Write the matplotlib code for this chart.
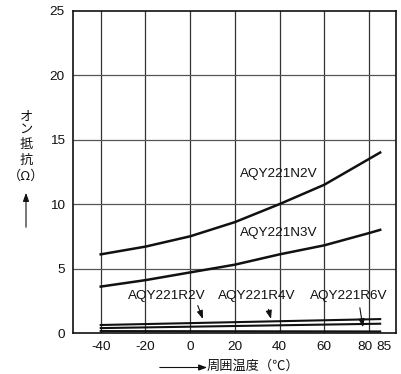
import matplotlib
matplotlib.use("Agg")
import matplotlib.pyplot as plt
import matplotlib.transforms as mtransforms

# Data
temps = [-40, -20, 0, 20, 40, 60, 80, 85]
n2v = [6.1, 6.7, 7.5, 8.6, 10.0, 11.5, 13.5, 14.0]
n3v = [3.6, 4.1, 4.7, 5.3, 6.1, 6.8, 7.75, 8.0]
r_temps = [-40, 85]
r2v = [0.62, 1.08]
r4v = [0.38, 0.72]
r6v = [0.15, 0.12]
xticks = [-40, -20, 0, 20, 40, 60, 80, 85]
xgrid = [-40, -20, 0, 20, 40, 60, 80]
yticks = [0, 5, 10, 15, 20, 25]

W, H = 402, 374
fig = plt.figure(figsize=(W / 100, H / 100), dpi=100)
ax = fig.add_axes([73 / W, 1 - 333 / H, (396.5 - 73) / W, (333 - 10.7) / H])

latin = ["Liberation Sans", "DejaVu Sans"]
jp = ["Noto Sans CJK JP", "DejaVu Sans"]

ax.set_xlim(-52.4, 92.3)
ax.set_ylim(0, 25)
for xv in xgrid:
    ax.axvline(xv, color="#333333", lw=0.9, zorder=1)
for yv in yticks[1:-1]:
    ax.axhline(yv, color="#555555", lw=0.9, zorder=1)

ax.plot(temps, n2v, color="#111111", lw=1.8, zorder=3)
ax.plot(temps, n3v, color="#111111", lw=1.8, zorder=3)
for r in (r2v, r4v, r6v):
    ax.plot(r_temps, r, color="#111111", lw=1.5, zorder=3)

ax.set_xticks(xticks)
ax.set_xticklabels([str(v) for v in xticks], fontfamily=latin, fontsize=9.7)
ax.set_yticks(yticks)
ax.set_yticklabels([str(v) for v in yticks], fontfamily=latin, fontsize=9.7)
ax.tick_params(length=0, pad=6, colors="#111111")
labs = ax.get_xticklabels()
labs[-2].set_transform(labs[-2].get_transform() + mtransforms.ScaledTranslation(-4 / 100, 0, fig.dpi_scale_trans))
labs[-1].set_transform(labs[-1].get_transform() + mtransforms.ScaledTranslation(4 / 100, 0, fig.dpi_scale_trans))
for s in ax.spines.values():
    s.set_linewidth(1.2)
    s.set_color("#111111")

tk = dict(fontfamily=latin, fontsize=9.7, color="#111111", ha="center", va="center", zorder=4)
ax.text(39.8, 12.33, "AQY221N2V", **tk)
ax.text(39.8, 7.76, "AQY221N3V", **tk)
ax.text(-10.3, 2.87, "AQY221R2V", **tk)
ax.text(30.0, 2.87, "AQY221R4V", **tk)
ax.text(71.1, 2.87, "AQY221R6V", **tk)

ap = dict(arrowstyle="-|>,head_length=0.5,head_width=0.18", color="#111111", lw=0.8, mutation_scale=10)
ax.annotate("", xy=(6.2, 0.88), xytext=(2.95, 2.33), arrowprops=ap)
ax.annotate("", xy=(36.5, 0.88), xytext=(34.7, 2.04), arrowprops=ap)
ax.annotate("", xy=(77.5, 0.23), xytext=(75.7, 2.17), arrowprops=ap)

# Y label (vertical, stacked)
def ftext(px, py, s, **kw):
    fig.text(px / W, 1 - py / H, s, ha="center", va="center", fontfamily=jp,
             fontsize=9.5, color="#111111", **kw)

for ch, py in zip(["オ", "ン", "抵", "抗"], [117, 129.5, 144.5, 160]):
    ftext(26, py, ch)
ftext(26, 176, "（Ω）")
fig.add_artist(matplotlib.patches.FancyArrowPatch(
    (26 / W, 1 - 230 / H), (26 / W, 1 - 190 / H), transform=fig.transFigure,
    arrowstyle="-|>,head_length=0.5,head_width=0.18", mutation_scale=10, lw=0.8, color="#111111"))

# X label
ftext(253, 366.5, "周囲温度（℃）")
fig.add_artist(matplotlib.patches.FancyArrowPatch(
    (157 / W, 1 - 367.5 / H), (210 / W, 1 - 367.5 / H), transform=fig.transFigure,
    arrowstyle="-|>,head_length=0.5,head_width=0.18", mutation_scale=10, lw=0.8, color="#111111"))

fig.savefig("out.png", dpi=100, facecolor="white")
